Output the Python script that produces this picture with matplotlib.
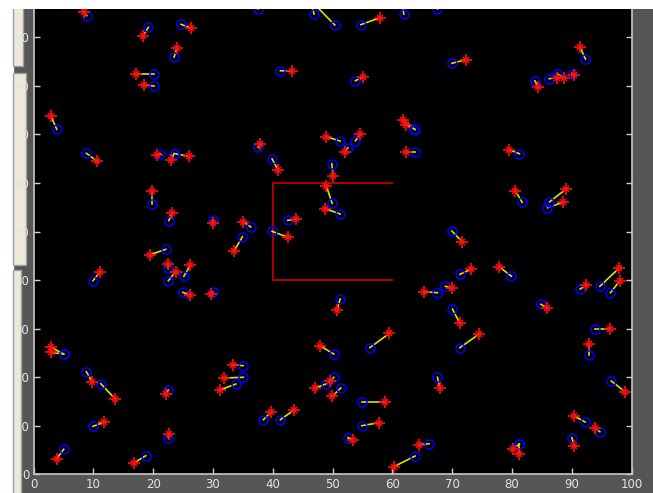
import matplotlib
matplotlib.use('Agg')
import matplotlib.pyplot as plt
from matplotlib.patches import Rectangle

# particle start positions (blue circles) and end positions (red stars)
circle_x = [8.90, 19.20, 24.67, 23.49, 20.15, 20.15, 3.88, 8.83, 21.20, 23.71,
            23.50, 19.87, 22.61, 29.97,
            37.54, 46.91, 50.37, 54.72, 61.91, 41.27, 53.81, 63.80, 63.68, 51.25,
            53.81, 52.54, 37.54, 63.80, 39.88, 49.87, 49.92, 51.25, 42.51, 36.32,
            39.88, 34.92,
            67.53, 69.93, 92.27, 83.81, 86.20, 87.54, 90.00, 81.24, 81.69, 86.25,
            85.92, 69.93,
            22.11, 9.95, 22.54, 22.54, 25.12, 24.95, 29.97, 5.05, 5.05, 8.83,
            11.24, 9.95, 22.54, 22.54, 5.05, 18.76,
            51.25, 50.20, 56.22, 35.03, 35.08, 33.81, 50.20, 48.86, 51.37, 38.43,
            41.27, 54.88, 54.88, 52.54, 66.14, 63.80,
            71.27, 79.90, 67.53, 68.86, 91.39, 94.68, 96.45, 70.03, 84.82, 71.27,
            93.90, 92.84, 67.53, 96.57, 92.22, 94.68, 90.00, 81.24, 81.24]
circle_y = [94.46, 92.07, 92.69, 85.95, 82.39, 79.98, 71.06, 66.12, 65.97, 66.03,
            66.07, 55.74, 52.24, 52.38,
            95.84, 94.81, 92.54, 92.61, 94.81, 83.13, 81.07, 70.98, 71.12, 68.65,
            68.71, 67.27, 67.35, 66.45, 65.00, 63.97, 55.82, 53.61, 52.32, 50.94,
            50.05, 48.94,
            95.84, 84.65, 85.54, 81.07, 81.48, 82.51, 82.45, 66.03, 56.02, 56.09,
            54.91, 50.11,
            46.34, 39.88, 42.43, 39.88, 40.78, 37.49, 37.49, 24.78, 24.78, 21.13,
            18.66, 9.89, 17.36, 7.54, 5.15, 3.83,
            36.11, 24.78, 26.08, 22.37, 19.98, 18.60, 19.98, 18.60, 17.78, 11.25,
            11.25, 14.95, 10.01, 7.54, 6.30, 3.77,
            41.19, 40.78, 37.40, 38.72, 38.17, 38.72, 37.40, 34.05, 35.02, 26.08,
            29.93, 24.57, 19.98, 19.22, 10.77, 8.77, 7.54, 6.24, 6.24]
star_x = [8.49, 18.36, 26.39, 24.05, 17.09, 18.48, 2.93, 10.67, 20.70, 25.95,
          23.04, 19.87, 23.21, 30.07,
          37.00, 46.20, 46.74, 57.89, 61.50, 43.18, 55.05, 61.74, 62.24, 48.96,
          54.65, 52.14, 37.93, 62.24, 40.84, 50.08, 48.96, 48.80, 43.85, 35.08,
          42.51, 33.58,
          67.00, 72.27, 91.34, 84.36, 87.54, 88.60, 90.43, 79.52, 80.57, 89.10,
          88.49, 71.66,
          19.48, 11.07, 22.54, 23.78, 26.22, 26.22, 29.68, 2.93, 2.93, 9.83,
          13.68, 11.74, 22.21, 22.71, 3.88, 16.86,
          50.75, 47.96, 59.50, 33.41, 31.91, 31.19, 49.58, 47.12, 49.97, 39.67,
          43.56, 58.78, 57.73, 53.38, 64.46, 60.23,
          73.11, 77.84, 65.30, 69.93, 92.44, 97.86, 98.03, 71.27, 85.87, 74.45,
          96.35, 92.84, 67.93, 98.96, 90.38, 93.85, 90.43, 80.18, 81.24]
star_y = [95.16, 90.34, 91.86, 87.87, 82.39, 80.19, 73.80, 64.47, 65.83, 65.50,
          64.80, 58.35, 53.88, 51.76,
          97.50, 98.00, 97.10, 94.05, 97.50, 83.01, 81.77, 72.98, 71.95, 69.54,
          70.03, 66.38, 68.10, 66.45, 62.74, 61.44, 59.38, 54.71, 52.52, 52.03,
          48.81, 46.06,
          98.00, 85.40, 88.01, 79.77, 81.69, 81.69, 82.24, 66.86, 58.35, 58.83,
          56.02, 47.91,
          45.23, 41.61, 43.32, 41.73, 43.05, 36.87, 37.07, 26.16, 25.13, 19.07,
          15.51, 10.71, 16.60, 8.30, 3.21, 2.39,
          33.84, 26.43, 29.04, 22.57, 19.84, 17.36, 19.16, 17.78, 16.07, 12.77,
          13.24, 14.95, 10.63, 7.13, 6.10, 1.57,
          42.22, 42.76, 37.61, 38.31, 38.99, 42.43, 39.88, 31.10, 34.25, 28.84,
          29.93, 26.90, 17.71, 16.95, 12.01, 9.54, 5.89, 5.27, 4.12]

# selection box (open on the right side)
box_x = [60, 40, 40, 60]
box_y = [60, 60, 40, 40]

xticks = [0, 10, 20, 30, 40, 50, 60, 70, 80, 90, 100]
yticks = [0, 10, 20, 30, 40, 50, 60, 70, 80, 90]

W, H = 653, 493
fig = plt.figure(figsize=(W / 100, H / 100), dpi=100, facecolor='#565656')

# left-hand window panels
def panel(x0, y0, x1, y1, fc='#ece9d8', ec='#a0a0a0'):
    r = Rectangle((x0 / W, 1 - y1 / H), (x1 - x0) / W, (y1 - y0) / H,
                  transform=fig.transFigure, facecolor=fc, edgecolor=ec,
                  linewidth=1.0, zorder=-1)
    fig.add_artist(r)

panel(0, 0, 13, H, fc='white', ec='white')
panel(13, -2, 23, 66)
panel(13, 73, 26, 265)
panel(13, 270, 21, H + 2)

ax = fig.add_axes([33.5 / W, (H - 474.3) / H, 598.2 / W, 485.5 / H])
ax.set_facecolor('black')

for i in range(len(circle_x)):
    ax.plot([circle_x[i], star_x[i]], [circle_y[i], star_y[i]],
            color='#e0e000', linewidth=1.2, zorder=2)
ax.plot(circle_x, circle_y, 'o', markersize=6.5, markerfacecolor='none',
        markeredgecolor='#0000ff', markeredgewidth=1.1, zorder=3)
ax.plot(star_x, star_y, '+', markersize=8, color='#ff1010',
        markeredgewidth=1.2, zorder=4)
ax.plot(star_x, star_y, 'x', markersize=5, color='#ff1010',
        markeredgewidth=1.1, zorder=4)
ax.plot(box_x, box_y, color='#c00000', linewidth=1.3, zorder=1)

ax.set_xlim(0, 100)
ax.set_ylim(0, 100)
ax.set_xticks(xticks)
ax.set_yticks(yticks)
ax.tick_params(direction='in', length=4, width=1, color='#d0d0d0',
               labelcolor='#e4e4e4', labelsize=8.5, pad=3)
ax.tick_params(right=True)
for s in ax.spines.values():
    s.set_color('#c8c8c8')
    s.set_linewidth(1.2)

# window title strip along the top
fig.add_artist(Rectangle((0, 1 - 9 / H), 1, 9 / H, transform=fig.transFigure,
                         facecolor='white', edgecolor='none', zorder=10))

fig.savefig('out.png', dpi=100, facecolor=fig.get_facecolor())
